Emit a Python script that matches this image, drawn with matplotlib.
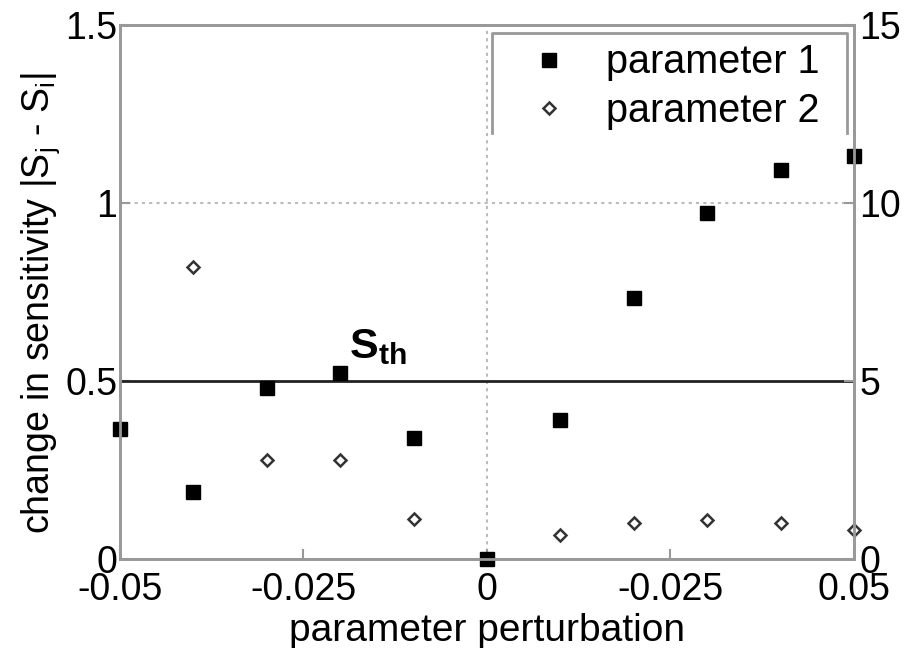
import matplotlib
matplotlib.use("Agg")
import matplotlib.pyplot as plt
from matplotlib.lines import Line2D

plt.rcParams['font.family'] = ['Liberation Sans', 'DejaVu Sans']
plt.rcParams['mathtext.fontset'] = 'custom'
plt.rcParams['mathtext.rm'] = 'Liberation Sans'
plt.rcParams['mathtext.it'] = 'Liberation Sans'
plt.rcParams['mathtext.bf'] = 'Liberation Sans:bold'

x1 = [-0.05, -0.04, -0.03, -0.02, -0.01, 0.0, 0.01, 0.02, 0.03, 0.04, 0.05]
param1 = [0.365, 0.188, 0.48, 0.522, 0.34, 0.0, 0.39, 0.733, 0.972, 1.093, 1.132]
x2 = [-0.04, -0.03, -0.02, -0.01, 0.01, 0.02, 0.03, 0.04, 0.05]
param2 = [0.82, 0.278, 0.278, 0.112, 0.067, 0.101, 0.11, 0.101, 0.081]
s_th = 0.5
xticks = [-0.05, -0.025, 0, 0.025, 0.05]
xticklabels = ["-0.05", "-0.025", "0", "-0.025", "0.05"]
yticks_left = [0, 0.5, 1, 1.5]
yticklabels_left = ["0", "0.5", "1", "1.5"]
yticks_right = [0, 5, 10, 15]

gray = '#999999'
fig = plt.figure(figsize=(9.14, 6.48), dpi=100)
ax = fig.add_axes([0.1313, 0.1373, 0.803, 0.824])
ax.set_xlim(-0.05, 0.05)
ax.set_ylim(0, 1.5)

ax.axhline(1.0, color='#bbbbbb', linestyle=(0, (1.5, 2)), linewidth=1.5, zorder=1)
ax.axvline(0.0, color='#bbbbbb', linestyle=(0, (1.5, 2)), linewidth=1.5, zorder=1)
ax.axhline(s_th, color='#222222', linewidth=2, zorder=2)

ax.plot(x1, param1, linestyle='none', marker='s', markersize=10, color='black',
        label='parameter 1', zorder=4, clip_on=False)
ax.plot(x2, param2, linestyle='none', marker='D', markersize=6.5, markerfacecolor='white',
        markeredgecolor='#333333', markeredgewidth=1.8, label='parameter 2', zorder=4, clip_on=False)

ax.text(-0.0188, 0.565, r'$\mathbf{S}_{\mathbf{th}}$', fontsize=31, fontweight='bold')

ax.set_xticks(xticks)
ax.set_xticklabels(xticklabels)
ax.set_yticks(yticks_left)
ax.set_yticklabels(yticklabels_left)
ax.tick_params(direction='in', length=7, width=1.5, color=gray, labelsize=27, pad=2)
ax.tick_params(axis='x', pad=9)
for s in ax.spines.values():
    s.set_color(gray)
    s.set_linewidth(2)

ax.set_xlabel('parameter perturbation', fontsize=28, labelpad=4)
ax.set_ylabel(r'change in sensitivity |S$_j$ - S$_i$|', fontsize=27)
ax.yaxis.set_label_coords(-0.079, 0.48)

ax2 = ax.twinx()
ax2.set_ylim(0, 15)
ax2.set_yticks(yticks_right)
ax2.tick_params(direction='in', length=7, width=1.5, color=gray, labelsize=27, pad=4)
for s in ax2.spines.values():
    s.set_color(gray)
    s.set_linewidth(2)

# legend frame (open at the bottom, as in the reference)
bl, br, bt, bb = 0.5068, 0.9905, 0.985, 0.7978
frame = Line2D([bl, bl, br, br], [bb, bt, bt, bb], transform=ax.transAxes,
               color=gray, linewidth=2, zorder=5, clip_on=False)
ax.add_line(frame)

leg = ax.legend(loc='upper left', fontsize=28.5, frameon=False,
                bbox_to_anchor=(bl, bt), handletextpad=0.28, borderpad=0.26,
                labelspacing=0.27, handlelength=2.35, borderaxespad=0)
leg.set_zorder(5)

fig.savefig('out.png', dpi=100)
